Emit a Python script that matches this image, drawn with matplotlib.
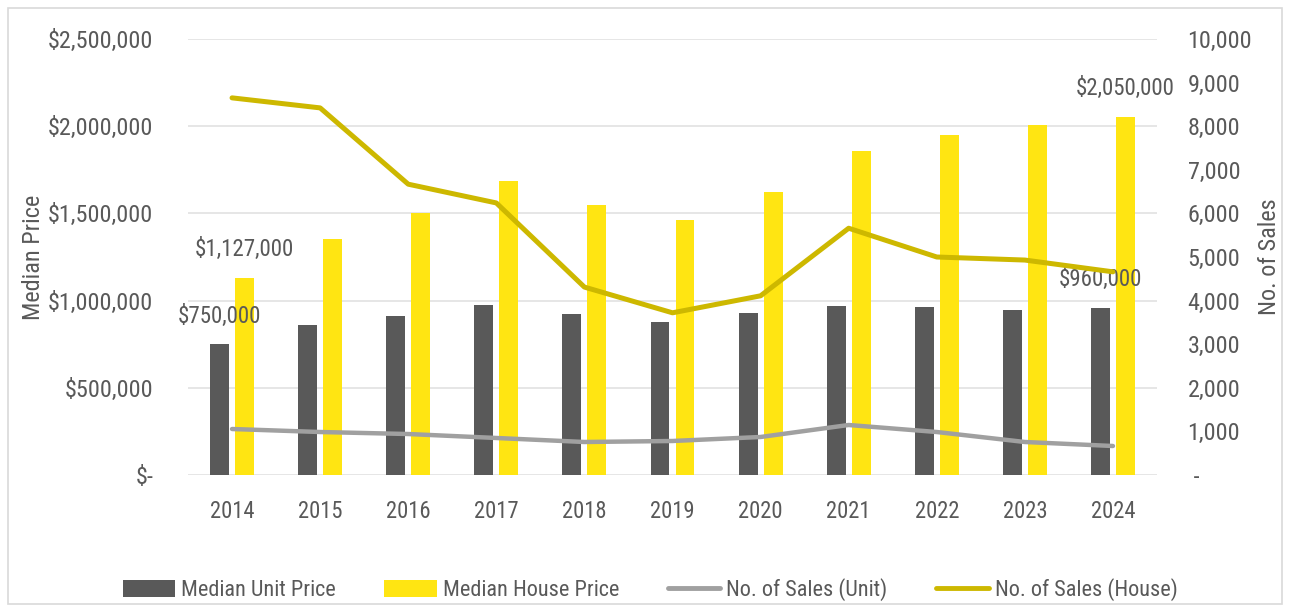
import matplotlib
matplotlib.use("Agg")
import matplotlib.pyplot as plt
import matplotlib.font_manager as fm
from matplotlib.patches import Rectangle, Patch
from matplotlib.lines import Line2D
from matplotlib.ticker import FuncFormatter, MultipleLocator
import numpy as np

years = ["2014", "2015", "2016", "2017", "2018", "2019", "2020", "2021", "2022", "2023", "2024"]
unit_price = [750000, 860000, 912000, 975000, 923000, 877000, 929000, 969000, 963000, 946000, 960000]
house_price = [1127000, 1353000, 1502000, 1686000, 1548000, 1462000, 1623000, 1858000, 1950000, 2005000, 2050000]
unit_sales = [1055, 986, 940, 849, 757, 780, 872, 1147, 986, 757, 665]
house_sales = [8650, 8420, 6670, 6240, 4310, 3720, 4110, 5660, 5000, 4930, 4660]
labels_unit = {0: "$750,000", 10: "$960,000"}
labels_house = {0: "$1,127,000", 10: "$2,050,000"}

names = {f.name for f in fm.fontManager.ttflist}
stretch = "normal"
if "Roboto Condensed" in names:
    fam = "Roboto Condensed"
elif "Liberation Sans Narrow" in names:
    fam = "Liberation Sans Narrow"
else:
    fam = "DejaVu Sans"
    stretch = "condensed"
plt.rcParams["font.family"] = [fam, "DejaVu Sans"]
plt.rcParams["font.stretch"] = stretch

TXT = "#595959"
C_UNIT = "#595959"
C_HOUSE = "#FFE512"
C_USALES = "#A0A0A0"
C_HSALES = "#CDB800"
GRID = "#E2E2E2"

fig = plt.figure(figsize=(12.9, 6.12), dpi=100)
fig.patches.append(Rectangle((8/1290, 1-604/612), 1274/1290, 596/612, transform=fig.transFigure,
                             fill=False, edgecolor="#D9D9D9", linewidth=1.2))
ax = fig.add_axes([188/1290, 1-475/612, 969/1290, 436/612])
ax2 = ax.twinx()

x = np.arange(len(years))
w = 0.215
off = 0.142
ax.bar(x - off, unit_price, w, color=C_UNIT, zorder=3)
ax.bar(x + off, house_price, w, color=C_HOUSE, zorder=3)
ax.set_xlim(-0.5, len(years) - 0.5)
ax.set_ylim(0, 2500000)
ax.yaxis.set_major_locator(MultipleLocator(500000))
ax.yaxis.set_major_formatter(FuncFormatter(lambda v, p: "$-" if v == 0 else f"${v:,.0f}"))
ax.grid(axis="y", color=GRID, linewidth=1.2, zorder=0)
ax.set_axisbelow(True)
for s in ax.spines.values():
    s.set_visible(False)
for s in ax2.spines.values():
    s.set_visible(False)
ax.set_xticks(x)
ax.set_xticklabels(years)
ax.tick_params(axis="y", length=0, colors=TXT, labelsize=17.4, pad=25)
ax.tick_params(axis="x", length=0, colors=TXT, labelsize=16.3, pad=18)

ax2.plot(x, unit_sales, color=C_USALES, linewidth=3.2, solid_capstyle="round", zorder=4)
ax2.plot(x, house_sales, color=C_HSALES, linewidth=3.6, solid_capstyle="round", zorder=4)
ax2.set_ylim(0, 10000)
ax2.yaxis.set_major_locator(MultipleLocator(1000))
ax2.yaxis.set_major_formatter(FuncFormatter(lambda v, p: " -" if v == 0 else f"{v:,.0f}"))
ax2.tick_params(axis="y", length=0, colors=TXT, labelsize=17.4, pad=22)

for i, t in labels_unit.items():
    ax.annotate(t, (x[i] - off, unit_price[i]), xytext=(0, 20), textcoords="offset points",
                ha="center", va="center", color=TXT, fontsize=16.5, zorder=6)
for i, t in labels_house.items():
    ax.annotate(t, (x[i] + off, house_price[i]), xytext=(0, 21), textcoords="offset points",
                ha="center", va="center", color=TXT, fontsize=16.5, zorder=6)

fig.text(33/1290, 1-257/612, "Median Price", rotation=90, ha="center", va="center", color=TXT, fontsize=17.5)
fig.text(1270/1290, 1-257/612, "No. of Sales", rotation=90, ha="center", va="center", color=TXT, fontsize=17.5)

handles = [Patch(facecolor=C_UNIT), Patch(facecolor=C_HOUSE),
           Line2D([0], [0], color=C_USALES, linewidth=3.5, solid_capstyle="round"),
           Line2D([0], [0], color=C_HSALES, linewidth=3.5, solid_capstyle="round")]
leg = fig.legend(handles, ["Median Unit Price", "Median House Price", "No. of Sales (Unit)", "No. of Sales (House)"],
                 loc="center", bbox_to_anchor=(650/1290, 1-590/612), ncol=4, frameon=False,
                 fontsize=16, handlelength=2.35, handleheight=0.8, handletextpad=0.27, columnspacing=2.2,
                 labelcolor=TXT)

fig.savefig("out.png", dpi=100)
